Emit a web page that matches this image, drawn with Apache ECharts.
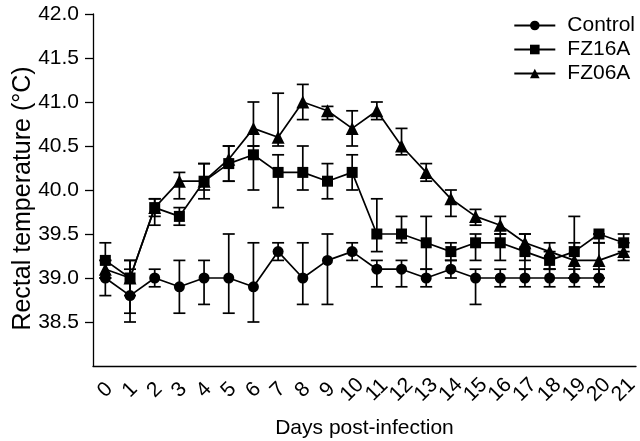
<!DOCTYPE html>
<html>
<head>
<meta charset="utf-8">
<script src="https://cdn.jsdelivr.net/npm/echarts@6/dist/echarts.min.js"></script>
<style>html,body{margin:0;padding:0;background:#fff;}#c{width:640px;height:441px;}</style>
</head>
<body>
<div id="c"></div>
<script>
var days = ['0','1','2','3','4','5','6','7','8','9','10','11','12','13','14','15','16','17','18','19','20','21'];
var yTicks = [38.0, 38.5, 39.0, 39.5, 40.0, 40.5, 41.0, 41.5, 42.0];

var control     = [39.0, 38.8, 39.0, 38.9, 39.0, 39.0, 38.9, 39.3, 39.0, 39.2, 39.3, 39.1, 39.1, 39.0, 39.1, 39.0, 39.0, 39.0, 39.0, 39.0, 39.0, null];
var controlLow  = [38.8, 38.5, 38.9, 38.6, 38.7, 38.6, 38.5, 39.2, 38.7, 38.7, 39.2, 38.9, 38.9, 38.9, 39.0, 38.7, 38.9, 38.9, 38.9, 38.9, 38.9, null];
var controlHigh = [39.2, 39.1, 39.1, 39.2, 39.2, 39.5, 39.4, 39.4, 39.4, 39.5, 39.4, 39.2, 39.2, 39.1, 39.2, 39.1, 39.1, 39.1, 39.1, 39.1, 39.1, null];

var fz16a     = [39.2, 39.0, 39.8, 39.7, 40.1, 40.3, 40.4, 40.2, 40.2, 40.1, 40.2, 39.5, 39.5, 39.4, 39.3, 39.4, 39.4, 39.3, 39.2, 39.3, 39.5, 39.4];
var fz16aLow  = [39.0, 38.8, 39.6, 39.6, 39.9, 40.1, 40.0, 39.8, 40.0, 39.9, 40.0, 39.3, 39.4, 39.1, 39.2, 39.2, 39.2, 39.1, 39.1, 39.0, 39.4, 39.3];
var fz16aHigh = [39.4, 39.2, 39.9, 39.8, 40.3, 40.5, 40.5, 40.4, 40.5, 40.3, 40.4, 39.9, 39.7, 39.7, 39.4, 39.5, 39.5, 39.5, 39.3, 39.7, 39.5, 39.5];

var fz06a     = [39.1, 39.0, 39.8, 40.1, 40.1, 40.35, 40.7, 40.6, 41.0, 40.9, 40.7, 40.9, 40.5, 40.2, 39.9, 39.7, 39.6, 39.4, 39.3, 39.2, 39.2, 39.3];
var fz06aLow  = [39.0, 38.6, 39.7, 39.9, 40.0, 40.1, 40.5, 40.5, 40.8, 40.8, 40.5, 40.8, 40.4, 40.1, 39.7, 39.6, 39.5, 39.2, 39.1, 39.0, 39.0, 39.2];
var fz06aHigh = [39.2, 39.2, 39.9, 40.2, 40.3, 40.5, 41.0, 41.1, 41.2, 40.95, 40.9, 41.0, 40.7, 40.3, 40.0, 39.78, 39.7, 39.5, 39.4, 39.4, 39.4, 39.4];

function errData(low, high) {
  var out = [];
  for (var i = 0; i < low.length; i++) {
    if (low[i] != null && high[i] != null) out.push([i, low[i], high[i]]);
  }
  return out;
}
function renderErr(params, api) {
  var x = api.value(0);
  var lo = api.coord([x, api.value(1)]);
  var hi = api.coord([x, api.value(2)]);
  var w = 6;
  var st = {stroke: '#000', lineWidth: 1.7, fill: null};
  return {
    type: 'group',
    children: [
      {type: 'line', shape: {x1: lo[0], y1: lo[1], x2: hi[0], y2: hi[1]}, style: st},
      {type: 'line', shape: {x1: lo[0] - w, y1: lo[1], x2: lo[0] + w, y2: lo[1]}, style: st},
      {type: 'line', shape: {x1: hi[0] - w, y1: hi[1], x2: hi[0] + w, y2: hi[1]}, style: st}
    ]
  };
}
var fontFam = 'Liberation Sans, Arial, Helvetica, sans-serif';
function lineSeries(name, data, sym, size) {
  return {
    name: name, type: 'line', data: data, symbol: sym, symbolSize: size,
    lineStyle: {color: '#000', width: 1.7}, itemStyle: {color: '#000'},
    connectNulls: false, z: 3
  };
}
function errSeries(low, high) {
  return {type: 'custom', renderItem: renderErr, data: errData(low, high), z: 2, silent: true};
}
var chart = echarts.init(document.getElementById('c'));
chart.setOption({
  animation: false,
  backgroundColor: '#fff',
  textStyle: {fontFamily: fontFam, color: '#000'},
  grid: {left: 93, right: 4, top: 14, bottom: 75, containLabel: false, outerBoundsMode: 'none'},
  legend: {
    orient: 'vertical', right: 0, top: 10, itemWidth: 41, itemHeight: 12, itemGap: 3,
    textStyle: {fontSize: 21, color: '#000', fontFamily: fontFam, padding: [0, 0, 0, 7]},
    data: ['Control', 'FZ16A', 'FZ06A']
  },
  xAxis: {
    type: 'category', data: days, boundaryGap: true,
    name: 'Days post-infection', nameLocation: 'middle', nameGap: 52, nameMoveOverlap: false,
    nameTextStyle: {fontSize: 21, color: '#000', fontFamily: fontFam},
    axisLine: {lineStyle: {color: '#000', width: 1.3}},
    axisTick: {alignWithLabel: true, length: 7, lineStyle: {color: '#000', width: 1.3}},
    axisLabel: {rotate: 45, fontSize: 21, color: '#000', margin: 24, interval: 0, fontFamily: fontFam,
      align: 'center', verticalAlign: 'middle'}
  },
  yAxis: {
    type: 'value', min: 38, max: 42, interval: 0.5,
    name: 'Rectal temperature (\u00B0C)', nameLocation: 'middle', nameGap: 57, nameMoveOverlap: false,
    nameTextStyle: {fontSize: 25, color: '#000', fontFamily: fontFam, padding: [0, 17, 0, 0]},
    splitLine: {show: false},
    axisLine: {show: true, lineStyle: {color: '#000', width: 1.3}},
    axisTick: {show: true, length: 8, lineStyle: {color: '#000', width: 1.3}},
    axisLabel: {fontSize: 21, color: '#000', margin: 14, showMinLabel: false, fontFamily: fontFam,
      formatter: function (v) { return v.toFixed(1); }}
  },
  series: [
    errSeries(controlLow, controlHigh),
    errSeries(fz16aLow, fz16aHigh),
    errSeries(fz06aLow, fz06aHigh),
    lineSeries('Control', control, 'circle', 11),
    lineSeries('FZ16A', fz16a, 'rect', 11),
    lineSeries('FZ06A', fz06a, 'triangle', 13)
  ]
});
</script>
</body>
</html>
